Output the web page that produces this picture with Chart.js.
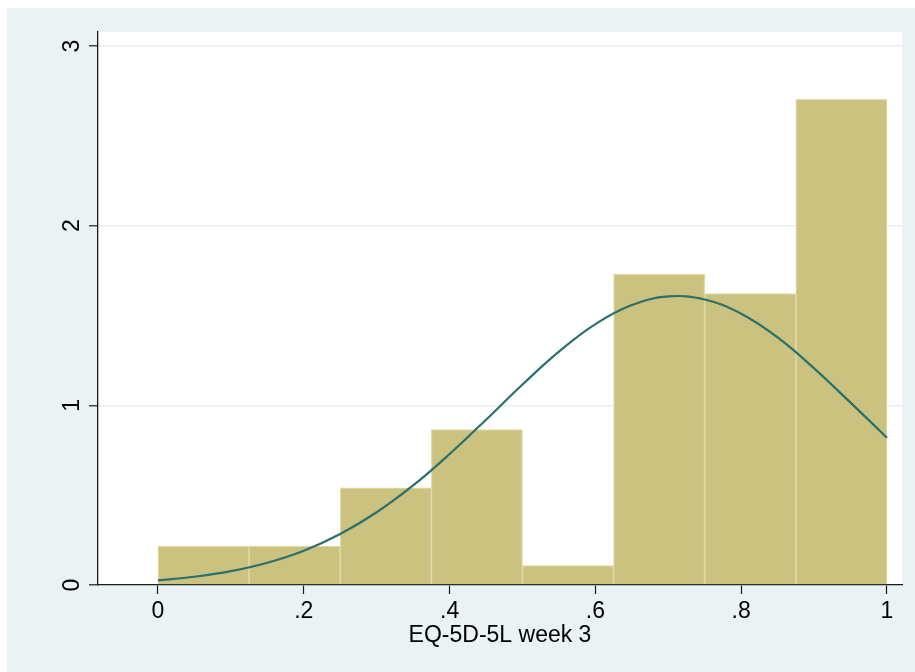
<!DOCTYPE html>
<html>
<head>
<meta charset="utf-8">
<title>EQ-5D-5L week 3</title>
<script src="https://cdn.jsdelivr.net/npm/chart.js@4/dist/chart.umd.min.js"></script>
<style>
  html, body { margin: 0; padding: 0; background: #ffffff; }
  #wrap { width: 915px; height: 672px; }
</style>
</head>
<body>
<div id="wrap"><canvas id="hist" width="915" height="672"></canvas></div>
<script>
// Histogram bins (width .125) and their densities
const binCenters = [0.0625, 0.1875, 0.3125, 0.4375, 0.5625, 0.6875, 0.8125, 0.9375];
const densities  = [0.216, 0.216, 0.541, 0.865, 0.108, 1.730, 1.622, 2.703];

// Normal density overlay
const curveX = [0, 0.05, 0.10, 0.15, 0.20, 0.25, 0.30, 0.35, 0.40, 0.45, 0.50,
                0.55, 0.60, 0.65, 0.70, 0.75, 0.80, 0.85, 0.90, 0.95, 1.00];
const curveY = [0.026, 0.046, 0.077, 0.124, 0.191, 0.284, 0.405, 0.554, 0.729, 0.920, 1.116,
                1.299, 1.452, 1.558, 1.606, 1.589, 1.510, 1.378, 1.206, 1.015, 0.820];

// Axis ticks
const xTickValues = [0, 0.2, 0.4, 0.6, 0.8, 1];
const xTickLabels = ['0', '.2', '.4', '.6', '.8', '1'];
const yTickValues = [0, 1, 2, 3];
const yTickLabels = ['0', '1', '2', '3'];

const xTitle = 'EQ-5D-5L week 3';

const OUTER_BG = '#EAF2F3';
const GRID = '#E6EEF1';
const AXIS = '#1a1a1a';

const backgrounds = {
  id: 'backgrounds',
  beforeDraw(chart) {
    const { ctx, chartArea: a } = chart;
    ctx.save();
    ctx.fillStyle = '#ffffff';
    ctx.fillRect(0, 0, chart.width, chart.height);
    ctx.fillStyle = OUTER_BG;
    ctx.fillRect(7, 8, chart.width - 7, chart.height - 8);
    ctx.fillStyle = '#ffffff';
    ctx.fillRect(a.left, a.top, a.right - a.left, a.bottom - a.top);
    ctx.restore();
  }
};

const font = { family: '"Liberation Sans", Arial, Helvetica, sans-serif', size: 23 };

new Chart(document.getElementById('hist'), {
  type: 'bar',
  data: {
    datasets: [
      {
        type: 'line',
        order: 0,
        data: curveX.map((x, i) => ({ x, y: curveY[i] })),
        borderColor: '#2A706C',
        borderWidth: 2.2,
        pointRadius: 0,
        tension: 0.4,
        fill: false
      },
      {
        type: 'bar',
        order: 1,
        data: binCenters.map((x, i) => ({ x, y: densities[i] })),
        backgroundColor: '#CAC27E',
        borderColor: '#DED8A6',
        borderWidth: 1.2,
        borderSkipped: 'start',
        barPercentage: 1,
        categoryPercentage: 1,
        grouped: false
      }
    ]
  },
  options: {
    responsive: false,
    animation: false,
    devicePixelRatio: 1,
    layout: { padding: { left: 0, top: 32, right: 13, bottom: 0 } },
    plugins: { legend: { display: false }, tooltip: { enabled: false } },
    scales: {
      x: {
        type: 'linear',
        min: -0.0823,
        max: 1.0206,
        offset: false,
        afterBuildTicks: s => { s.ticks = xTickValues.map(v => ({ value: v })); },
        afterFit: s => { s.height = 87; },
        ticks: {
          autoSkip: false,
          maxRotation: 0,
          minRotation: 0,
          padding: 4,
          color: '#000',
          font,
          callback: (v, i) => xTickLabels[i]
        },
        grid: {
          offset: false,
          drawOnChartArea: false,
          drawTicks: true,
          tickLength: 9,
          tickColor: AXIS,
          tickWidth: 1.2
        },
        border: { display: true, color: AXIS, width: 1.3 },
        title: {
          display: true,
          text: xTitle,
          color: '#000',
          font,
          padding: { top: 0, bottom: 23 }
        }
      },
      y: {
        type: 'linear',
        min: 0,
        max: 3.078,
        afterBuildTicks: s => { s.ticks = yTickValues.map(v => ({ value: v })); },
        afterFit: s => { s.width = 98; },
        ticks: {
          autoSkip: false,
          minRotation: 90,
          maxRotation: 90,
          crossAlign: 'center',
          padding: 10,
          color: '#000',
          font,
          callback: (v, i) => yTickLabels[i]
        },
        grid: {
          drawOnChartArea: true,
          color: GRID,
          lineWidth: 1.6,
          drawTicks: true,
          tickLength: 9,
          tickColor: AXIS,
          tickWidth: 1.2
        },
        border: { display: true, color: AXIS, width: 1.3 }
      }
    }
  },
  plugins: [backgrounds]
});
</script>
</body>
</html>
